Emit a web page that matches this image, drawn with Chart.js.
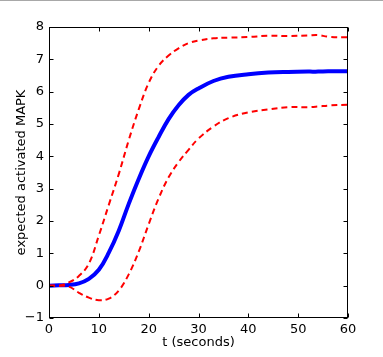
<!DOCTYPE html>
<html>
<head>
<meta charset="utf-8">
<script src="https://cdn.jsdelivr.net/npm/chart.js@4/dist/chart.umd.min.js"></script>
<style>
html,body{margin:0;padding:0;background:#fff;}
canvas{display:block;}
</style>
</head>
<body>
<canvas id="c" width="383" height="357"></canvas>
<script>
// Time points (seconds)
const timePoints = [0,2,4,6,8,10,12,14,16,18,20,22,24,26,28,30,33,36,40,44,48,52,54,56,60];
// Expected activated MAPK (mean)
const meanValues = [0,0.01,0.02,0.07,0.21,0.49,1.02,1.7,2.53,3.3,4.0,4.6,5.15,5.58,5.9,6.1,6.33,6.46,6.54,6.59,6.61,6.62,6.62,6.63,6.63];
// Upper bound (dashed red)
const upperValues = [0,0,0.1,0.3,0.68,1.55,2.5,3.45,4.5,5.45,6.27,6.8,7.12,7.34,7.5,7.58,7.65,7.67,7.69,7.73,7.72,7.74,7.75,7.70,7.68];
// Lower bound (dashed red)
const lowerValues = [0,0,-0.03,-0.22,-0.37,-0.45,-0.4,-0.15,0.35,1.05,1.9,2.7,3.35,3.82,4.2,4.55,4.92,5.18,5.36,5.45,5.52,5.52,5.54,5.57,5.6];
// Axis ticks
const xTicks = [0,10,20,30,40,50,60];
const yTicks = [-1,0,1,2,3,4,5,6,7,8];

const toXY = vals => timePoints.map((t,i)=>({x:t,y:vals[i]}));

Chart.defaults.font.family = '"DejaVu Sans", sans-serif';
Chart.defaults.font.size = 13;
Chart.defaults.color = '#000';

const frame = {
  id:'frame',
  afterDraw(chart){
    const {ctx, chartArea:a, scales:{x,y}} = chart;
    ctx.save();
    ctx.strokeStyle = '#a8a8a8'; ctx.lineWidth = 1;
    ctx.beginPath(); ctx.moveTo(0,0.5); ctx.lineTo(chart.width,0.5); ctx.stroke();
    ctx.strokeStyle = '#000'; ctx.lineWidth = 1;
    const L = Math.round(a.left)+0.5, R = Math.round(a.right)-0.5, T = Math.round(a.top)+0.5, B = Math.round(a.bottom)-0.5;
    ctx.strokeRect(L, T, R-L, B-T);
    const tl = 4;
    ctx.beginPath();
    xTicks.forEach(v=>{
      const px = Math.round(x.getPixelForValue(v))+0.5;
      ctx.moveTo(px,B); ctx.lineTo(px,B-tl);
      ctx.moveTo(px,T); ctx.lineTo(px,T+tl);
    });
    yTicks.forEach(v=>{
      const py = Math.round(y.getPixelForValue(v))+0.5;
      ctx.moveTo(L,py); ctx.lineTo(L+tl,py);
      ctx.moveTo(R,py); ctx.lineTo(R-tl,py);
    });
    ctx.stroke();
    ctx.restore();
  }
};

new Chart(document.getElementById('c'), {
  type:'line',
  data:{
    datasets:[
      {data:toXY(meanValues), borderColor:'#0000ff', borderWidth:4, pointRadius:0, tension:0.4, order:2},
      {data:toXY(upperValues), borderColor:'#ff0000', borderWidth:2, borderDash:[6,4], pointRadius:0, tension:0.4, order:1},
      {data:toXY(lowerValues), borderColor:'#ff0000', borderWidth:2, borderDash:[6,4], pointRadius:0, tension:0.4, order:1}
    ]
  },
  options:{
    responsive:false, animation:false,
    layout:{padding:{top:27,right:35,left:0,bottom:0}},
    plugins:{legend:{display:false}, tooltip:{enabled:false}},
    scales:{
      x:{type:'linear', min:0, max:60,
        afterBuildTicks: s => { s.ticks = xTicks.map(v=>({value:v})); },
        afterFit: s => { s.height = 39; },
        ticks:{padding:4, maxRotation:0, autoSkip:false, color:'#000'},
        grid:{display:false, drawTicks:false}, border:{display:false},
        title:{display:true, text:'t (seconds)', color:'#000', padding:{top:0,bottom:7}}
      },
      y:{type:'linear', min:-1, max:8,
        afterBuildTicks: s => { s.ticks = yTicks.map(v=>({value:v})); },
        afterFit: s => { s.width = 49; },
        ticks:{padding:5, autoSkip:false, color:'#000', callback: v => v<0 ? '\u2212'+Math.abs(v) : String(v)},
        grid:{display:false, drawTicks:false}, border:{display:false},
        title:{display:true, text:'expected activated MAPK', color:'#000', padding:{top:14,bottom:0}}
      }
    }
  },
  plugins:[frame]
});
</script>
</body>
</html>
